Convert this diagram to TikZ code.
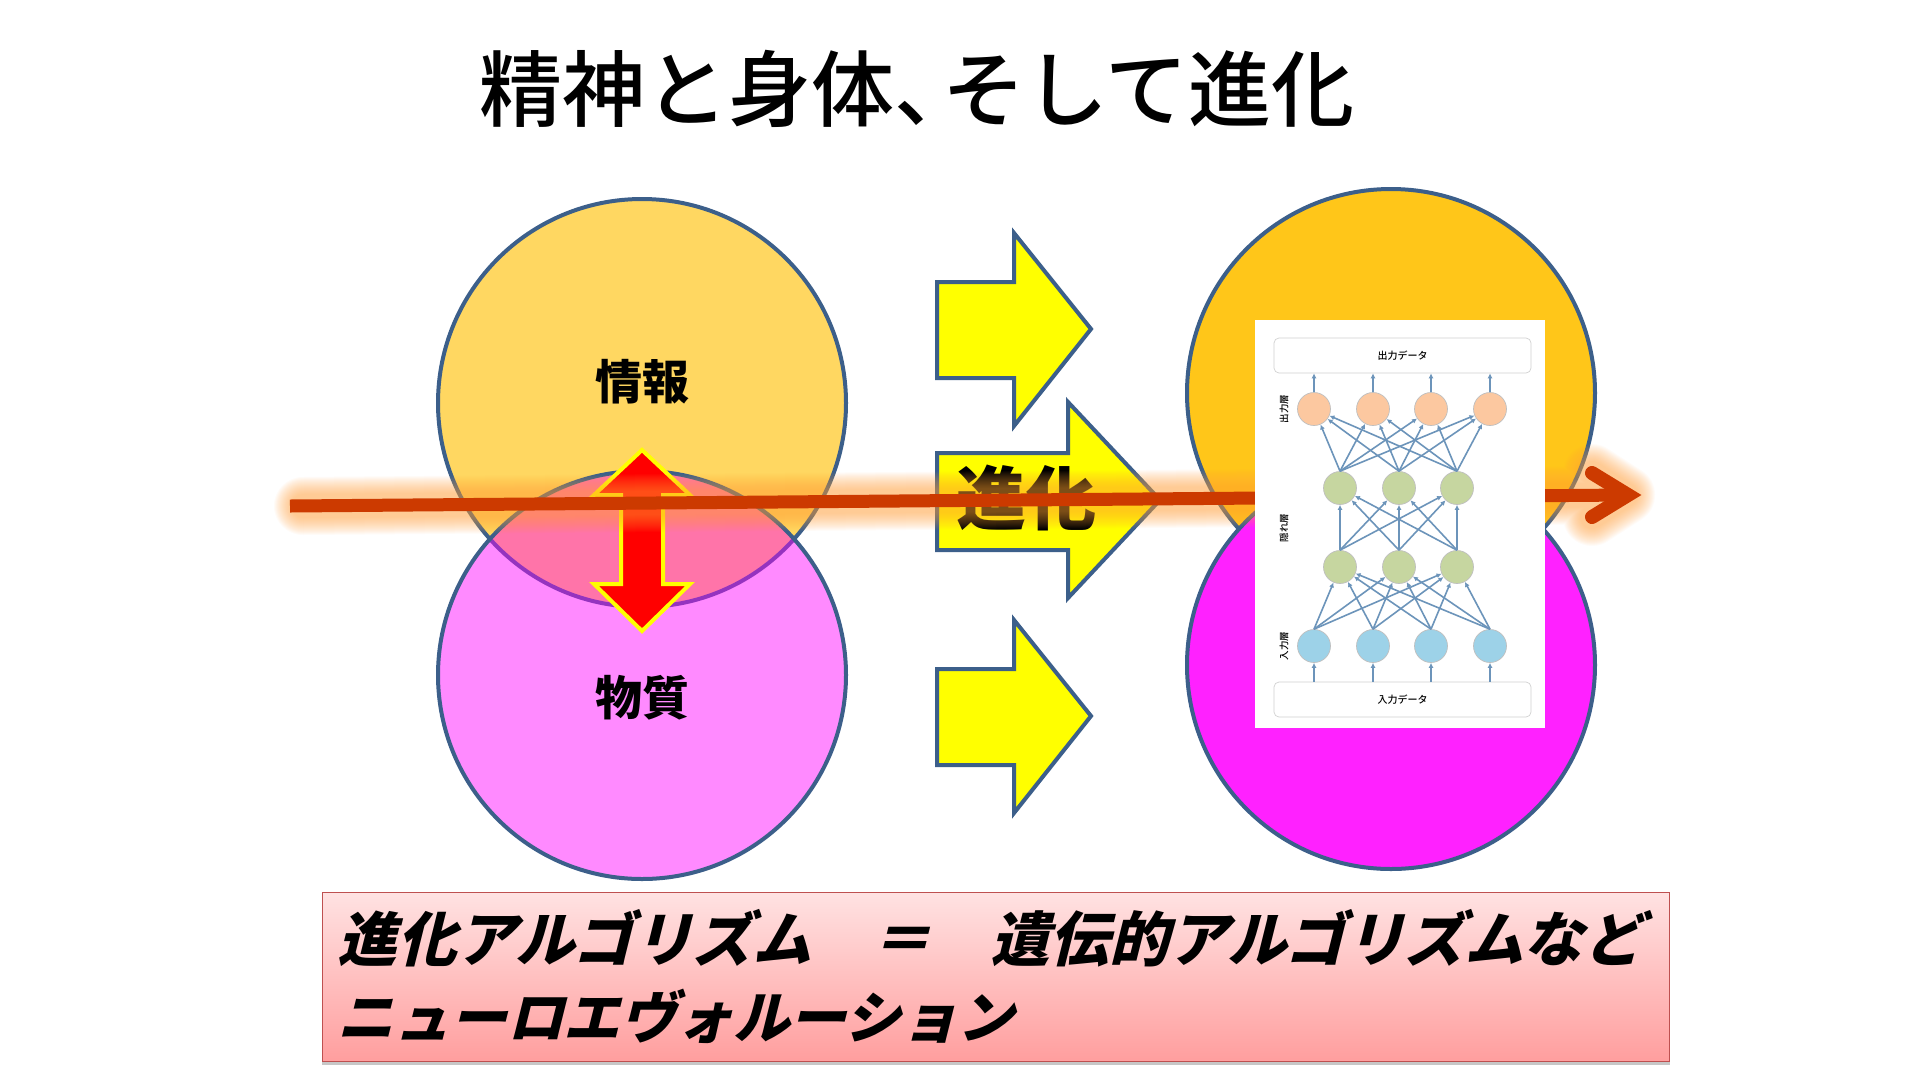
\documentclass[tikz,border=0pt]{standalone}
\usepackage{fontspec}
\setmainfont{Noto Sans CJK JP}
\usetikzlibrary{arrows.meta, calc}
\definecolor{borde}{RGB}{60,95,138}
\definecolor{naranja}{RGB}{255,192,0}
\definecolor{magenta2}{RGB}{255,0,255}
\definecolor{amarillo}{RGB}{255,255,0}
\definecolor{rojo}{RGB}{255,0,0}
\definecolor{flechaevo}{RGB}{204,58,0}
\definecolor{brillo}{RGB}{255,165,60}
\definecolor{conexion}{RGB}{108,148,186}
\definecolor{capasal}{RGB}{252,200,160}
\definecolor{capaocu}{RGB}{198,214,160}
\definecolor{capaent}{RGB}{157,210,232}
\newfontfamily\titular{Noto Sans CJK JP Medium}
\newfontfamily\negrita[FakeSlant=0.25]{Noto Sans CJK JP Black}
\tikzset{
  circulo/.style={circle, draw=borde, line width=4pt, minimum size=408pt, inner sep=0pt},
  etiqueta/.style={font=\bfseries\fontsize{47}{50}\selectfont},
  amarilla/.style={draw=borde, line width=4pt, fill=amarillo, line join=miter},
  neurona/.style={circle, draw=black!25, line width=.7pt, minimum size=33pt, inner sep=0pt},
  caja/.style={draw=black!18, line width=.7pt, rounded corners=5pt, minimum width=257pt, minimum height=35pt, inner sep=0pt,
               font=\titular\fontsize{10}{11}\selectfont},
  capa/.style={rotate=90, font=\titular\fontsize{9.5}{10}\selectfont},
  enlace/.style={-{Latex[length=5pt,width=5pt]}, conexion, line width=1.6pt},
  evolinea/.style={flechaevo, line width=13pt},
  evopunta/.style={flechaevo, line width=14pt, line cap=round, line join=miter}
}
\begin{document}
\begin{tikzpicture}[x=1pt, y=-1pt]
  \useasboundingbox (0,0) rectangle (1920,1080);
  \fill[white] (0,0) rectangle (1920,1080);

  \node[font=\titular\fontsize{83}{88}\selectfont] (titulo) at (917,89) {精神と身体、\kern-.42em そして進化};

  % circulos
  \node[circulo, fill=naranja, fill opacity=.62] (info) at (642,403) {};
  \node[circulo, fill=magenta2, fill opacity=.46] (mat) at (642,675) {};
  \node[circulo, fill=naranja!90!white] (info2) at (1391,393) {};
  \node[circulo, fill=magenta2!87!white] (mat2) at (1391,665) {};
  \node[etiqueta] (tinfo) at (642,382) {情報};
  \node[etiqueta] (tmat) at (642,698) {物質};

  % flechas amarillas
  \foreach \dy in {0,387}
    \draw[amarilla, yshift=-\dy pt] (937,282) -- (1014,282) -- (1014,233) -- (1091,329)
      -- (1014,426) -- (1014,378) -- (937,378) -- cycle;
  \draw[amarilla] (937,453) -- (1068,453) -- (1068,402) -- (1160,500)
      -- (1068,598) -- (1068,550) -- (937,550) -- cycle;
  \node[font=\bfseries\fontsize{70}{72}\selectfont] (tevo) at (1026,498) {進化};

  % doble flecha
  \draw[draw=amarillo, line width=4pt, fill=rojo, line join=miter]
    (642,450) -- (690,495) -- (663,495) -- (663,584) -- (690,584) -- (642,631)
    -- (594,584) -- (621,584) -- (621,495) -- (594,495) -- cycle;

  % flecha de evolucion
  \coordinate (evoA) at (290,506);
  \coordinate (evoB) at (1640,495);
  \coordinate (evoC) at (1592,473);
  \coordinate (evoD) at (1592,517);
  \coordinate (evoE) at (303,506);
  \coordinate (evoF) at (1626,495);
  \foreach \w in {58,56,...,24}
    \draw[brillo, line width=\w pt, opacity=.04, line cap=round, line join=round]
      (evoE) -- (evoF) (evoC) -- (evoF) -- (evoD);
  \draw[evolinea] (evoA) -- ($(evoB)+(-12,0)$);
  \draw[evopunta] (evoC) -- ($(evoB)+(-12,0)$) -- (evoD);

  % imagen de la red
  \fill[white] (1255,320) rectangle (1545,728);
  \node[caja] (salida) at (1402.5,355.5) {出力データ};
  \node[caja] (entrada) at (1402.5,699.5) {入力データ};
  \foreach \i/\x in {1/1314,2/1373,3/1431,4/1490} {
    \node[neurona, fill=capasal] (s\i) at (\x,409) {};
    \node[neurona, fill=capaent] (e\i) at (\x,646) {};
  }
  \foreach \i/\x in {1/1340,2/1399,3/1457} {
    \node[neurona, fill=capaocu] (b\i) at (\x,488) {};
    \node[neurona, fill=capaocu] (a\i) at (\x,567) {};
  }
  \foreach \i in {1,2,3} \foreach \j in {1,2,3,4} {
    \draw[enlace] (e\j.north) -- (a\i);
    \draw[enlace] (b\i.north) -- (s\j);
  }
  \foreach \i in {1,2,3} \foreach \j in {1,2,3}
    \draw[enlace] (a\i.north) -- (b\j);
  \foreach \i/\x in {1/1314,2/1373,3/1431,4/1490} {
    \draw[enlace] (s\i.north) -- (s\i.north |- salida.south);
    \draw[enlace] (e\i |- entrada.north) -- (e\i.south);
  }
  \node[capa] (tsal) at (1284,409) {出力層};
  \node[capa] (toc) at (1284,528) {隠れ層};
  \node[capa] (tent) at (1284,646) {入力層};

  % recuadro inferior
  \fill[black!22] (322,894) rectangle (1670,1065);
  \node[draw={rgb,255:red,190;green,80;blue,80}, line width=1.2pt, top color={rgb,255:red,255;green,226;blue,226},
        bottom color={rgb,255:red,255;green,158;blue,158}, minimum width=1347pt, minimum height=169pt,
        anchor=north west, inner sep=0pt] (recuadro) at (322,892) {};
  \node[anchor=west, font=\negrita\fontsize{59.5}{60}\selectfont] (linea1) at (334,938) {進化アルゴリズム　＝　遺伝的アルゴリズムなど};
  \node[anchor=west, font=\negrita\fontsize{56.5}{60}\selectfont] (linea2) at (334,1016) {ニューロエヴォルーション};
\end{tikzpicture}
\end{document}
